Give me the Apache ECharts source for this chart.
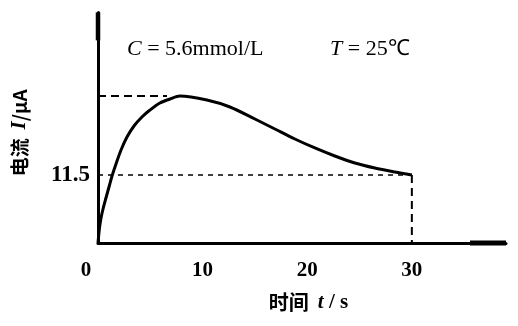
<!DOCTYPE html>
<html>
<head>
<meta charset="utf-8">
<script src="https://cdn.jsdelivr.net/npm/echarts@6/dist/echarts.min.js"></script>
<style>html,body{margin:0;padding:0;background:#fff}#c{width:518px;height:326px}</style>
</head>
<body>
<div id="c"></div>
<script>
// Data
const timeS = [0, 0.14, 0.29, 0.48, 0.76, 1.05, 1.34, 1.72, 2.2, 2.77, 3.44, 4.2, 4.97, 5.92, 6.88, 7.83,
               10.41, 12.61, 15.0, 16.91, 18.82, 20.73, 22.64, 24.55, 26.46, 28.37, 30];
const currentUA = [0, 2.54, 4.23, 5.75, 7.61, 9.47, 11.33, 13.36, 15.73, 17.93, 19.79, 21.31, 22.49, 23.68, 24.35, 24.86,
                   24.18, 23.0, 20.97, 19.28, 17.59, 16.07, 14.71, 13.53, 12.68, 12.01, 11.5];
const xTickLabels = [0, 10, 20, 30];
const yTickLabels = [11.5];
const peakPoint = [7.83, 24.86];
const endPoint = [30, 11.5];
const peakDashEndT = 6.6;

const curve = timeS.map((t, i) => [t, currentUA[i]]);
const serif = "'Liberation Serif','Times New Roman',serif";
const cjk = "'Noto Sans CJK SC','Liberation Serif',serif";

const chart = echarts.init(document.getElementById('c'), null, {renderer: 'canvas'});
chart.setOption({
  animation: false,
  backgroundColor: '#fff',
  grid: {left: 98, right: 12, top: 12.4, bottom: 83, containLabel: false},
  title: [
    {text: '{i|C} = 5.6mmol/L', left: 127, top: 38, padding: 0,
     textStyle: {fontFamily: serif, fontSize: 22, fontWeight: 'normal', color: '#000',
       rich: {i: {fontFamily: serif, fontStyle: 'italic', fontSize: 22, color: '#000'}}}},
    {text: '{i|T} = 25℃', left: 330, top: 38, padding: 0,
     textStyle: {fontFamily: serif, fontSize: 22, fontWeight: 'normal', color: '#000',
       rich: {i: {fontFamily: serif, fontStyle: 'italic', fontSize: 22, color: '#000'}}}}
  ],
  xAxis: {
    type: 'value', min: 0, max: 39, interval: 10,
    name: '时间  {i|t}{s| / s}', nameLocation: 'middle', nameGap: 49,
    nameTextStyle: {fontFamily: cjk, fontSize: 20, fontWeight: 'bold', color: '#000', padding: [0, 0, 0, 13],
      rich: {
        i: {fontFamily: serif, fontStyle: 'italic', fontWeight: 'bold', fontSize: 21, color: '#000'},
        s: {fontFamily: serif, fontWeight: 'bold', fontSize: 21, color: '#000'}
      }},
    axisLine: {lineStyle: {color: '#000', width: 3}, symbol: ['none', 'rect'], symbolSize: [5, 36], symbolOffset: [0, -18]},
    axisTick: {show: false},
    splitLine: {show: false},
    axisLabel: {
      margin: 17, showMaxLabel: false, color: '#000', fontFamily: serif, fontWeight: 'bold', fontSize: 21,
      formatter: v => xTickLabels.indexOf(v) < 0 ? '' : (v === 0 ? '{z|0}' : String(v)),
      rich: {z: {fontFamily: serif, fontWeight: 'bold', fontSize: 21, color: '#000', padding: [0, 24, 0, 0]}}
    }
  },
  yAxis: {
    type: 'value', min: 0, max: 39, interval: 11.5,
    name: '电流  {i|I}{s|/μA}', nameLocation: 'middle', nameGap: 68, nameRotate: 90,
    nameTextStyle: {fontFamily: cjk, fontSize: 19, fontWeight: 'bold', color: '#000', padding: [0, 10, 0, 0],
      rich: {
        i: {fontFamily: serif, fontStyle: 'italic', fontWeight: 'bold', fontSize: 21, color: '#000'},
        s: {fontFamily: cjk, fontWeight: 'bold', fontSize: 19, color: '#000'}
      }},
    axisLine: {show: true, lineStyle: {color: '#000', width: 3}, symbol: ['none', 'rect'], symbolSize: [4.5, 28], symbolOffset: [0, -14]},
    axisTick: {show: false},
    splitLine: {show: false},
    axisLabel: {
      margin: 8, showMaxLabel: false, color: '#000', fontFamily: serif, fontWeight: 'bold', fontSize: 23,
      padding: [4, 0, 0, 0],
      formatter: v => yTickLabels.some(y => Math.abs(y - v) < 1e-6) ? String(v) : ''
    }
  },
  series: [
    {type: 'line', data: [[0, peakPoint[1]], [peakDashEndT, peakPoint[1]]], symbol: 'none',
     lineStyle: {color: '#000', width: 2, type: [8, 5]}, z: 1},
    {type: 'line', data: [[0, endPoint[1]], endPoint], symbol: 'none',
     lineStyle: {color: '#000', width: 1.5, type: [5, 5]}, z: 1},
    {type: 'line', data: [endPoint, [endPoint[0], 0]], symbol: 'none',
     lineStyle: {color: '#000', width: 2, type: [8, 5]}, z: 1},
    {type: 'line', data: curve, symbol: 'none', smooth: 0.3,
     lineStyle: {color: '#000', width: 3}, z: 3}
  ]
});
</script>
</body>
</html>
